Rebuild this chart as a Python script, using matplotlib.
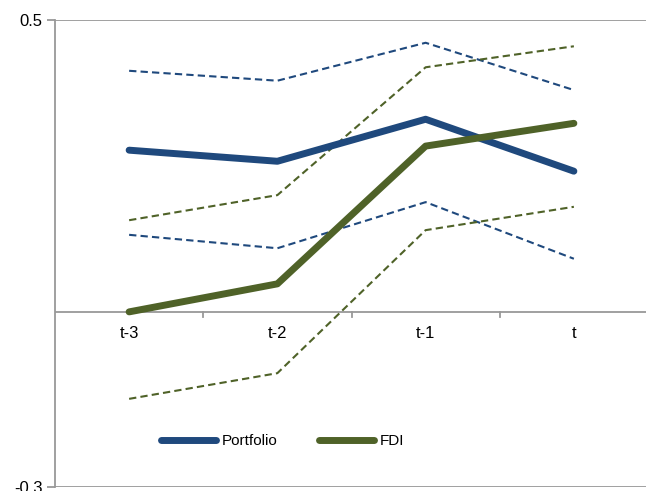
import numpy as np
import matplotlib.pyplot as plt

plt.rcParams['font.family'] = ['Liberation Sans', 'DejaVu Sans']

#> Categories and series
periods = ['t-3', 't-2', 't-1', 't']

portfolio = [0.277, 0.258, 0.330, 0.241]
portfolio_hi = [0.413, 0.396, 0.461, 0.380]
portfolio_lo = [0.132, 0.109, 0.188, 0.091]

fdi = [0.0, 0.048, 0.284, 0.323]
fdi_hi = [0.157, 0.200, 0.419, 0.455]
fdi_lo = [-0.149, -0.105, 0.140, 0.180]

blue = '#1F497D'
green = '#4F6228'
grey = '#999999'

fig = plt.figure(figsize=(6.46, 4.91), dpi=100)
ax = fig.add_axes([55/646, 1-487/491, 593/646, 467/491])

x = np.arange(len(periods))

ax.plot(x, portfolio_hi, color=blue, lw=1.5, ls=(0, (3.5, 2)))
ax.plot(x, portfolio_lo, color=blue, lw=1.5, ls=(0, (3.5, 2)))
ax.plot(x, fdi_hi, color=green, lw=1.5, ls=(0, (3.5, 2)))
ax.plot(x, fdi_lo, color=green, lw=1.5, ls=(0, (3.5, 2)))
ax.plot(x, portfolio, color=blue, lw=5, solid_capstyle='round',
        solid_joinstyle='round', label='Portfolio')
ax.plot(x, fdi, color=green, lw=5, solid_capstyle='round',
        solid_joinstyle='round', label='FDI')

ax.set_xlim(-0.5, 3.5)
ax.set_ylim(-0.3, 0.5)
ax.set_yticks([-0.3, 0.5])
ax.set_yticklabels(['-0.3', '0.5'], fontsize=12)
ax.set_xticks([])

#> Gridlines at the labelled values
for yv in [-0.3, 0.5]:
    ax.axhline(yv, color=grey, lw=1.3, zorder=0)

#> Category axis through zero with boundary ticks
ax.axhline(0, color=grey, lw=1.3, zorder=0)
for b in np.arange(0.5, 3.5, 1.0):
    ax.plot([b, b], [0, -0.008], color=grey, lw=1.3, clip_on=False, zorder=0)
for xi, lab in zip(x, periods):
    ax.text(xi, -0.024, lab, ha='center', va='top', fontsize=12)

for s in ['top', 'right', 'bottom']:
    ax.spines[s].set_visible(False)
ax.spines['left'].set_color(grey)
ax.spines['left'].set_linewidth(1.3)
ax.tick_params(axis='y', length=6, color=grey, width=1.3, pad=3)

leg = ax.legend(loc='center', bbox_to_anchor=(0.384, 0.098), ncol=2, frameon=False,
                fontsize=11, handlelength=3.6, columnspacing=2.7, handletextpad=0.4)

fig.savefig('out.png', dpi=100)
